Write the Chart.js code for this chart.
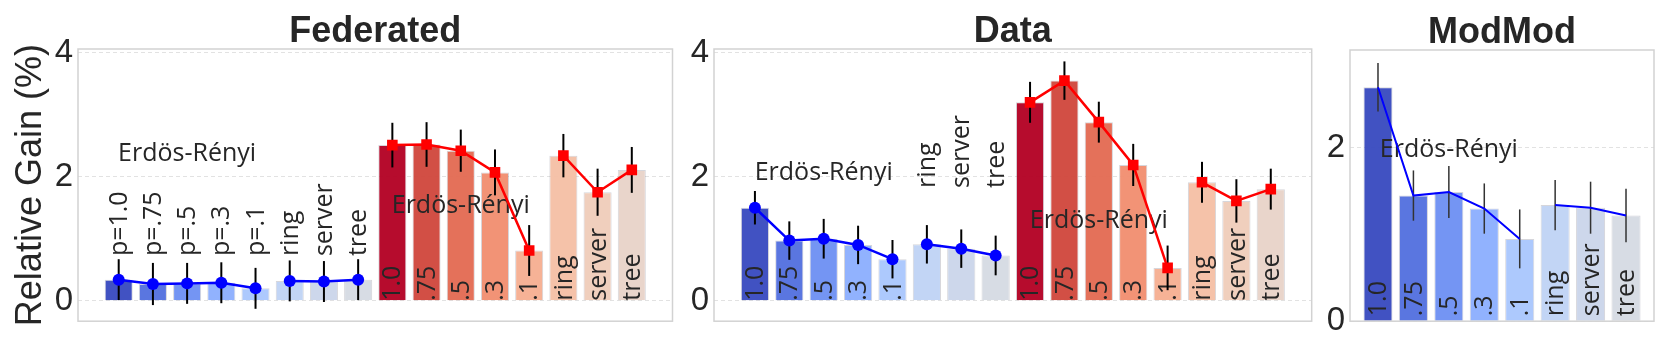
<!DOCTYPE html>
<html>
<head>
<meta charset="utf-8">
<script src="https://cdn.jsdelivr.net/npm/chart.js@4"></script>
<style>
  body { margin: 0; background: #fff; }
  #wrap { position: relative; width: 1661px; height: 346px; }
  canvas { position: absolute; top: 0; }
</style>
</head>
<body>
<div id="wrap">
  <canvas id="chartFed" width="680" height="346" style="left:0"></canvas>
  <canvas id="chartData" width="640" height="346" style="left:680px"></canvas>
  <canvas id="chartMod" width="341" height="346" style="left:1320px"></canvas>
</div>
<script>
// bar names (same order in every group)
var categories = ['1.0', '.75', '.5', '.3', '.1', 'ring', 'server', 'tree'];
var fedBlueLabels = ['p=1.0', 'p=.75', 'p=.5', 'p=.3', 'p=.1', 'ring', 'server', 'tree'];

// Federated
var fedBlue = [0.34, 0.27, 0.28, 0.29, 0.20, 0.32, 0.31, 0.34];
var fedBlueErr = [0.33, 0.34, 0.33, 0.33, 0.33, 0.33, 0.33, 0.33];
var fedRed = [2.51, 2.52, 2.42, 2.07, 0.81, 2.34, 1.75, 2.11];
var fedRedErr = [0.36, 0.36, 0.34, 0.37, 0.41, 0.35, 0.38, 0.37];

// Data
var dataBlue = [1.50, 0.97, 1.00, 0.90, 0.67, 0.91, 0.84, 0.73];
var dataBlueErr = [0.27, 0.31, 0.32, 0.31, 0.31, 0.31, 0.31, 0.32];
var dataRed = [3.20, 3.55, 2.88, 2.19, 0.53, 1.91, 1.61, 1.80];
var dataRedErr = [0.33, 0.31, 0.33, 0.34, 0.36, 0.33, 0.35, 0.33];

// ModMod
var modBlue = [2.70, 1.45, 1.49, 1.30, 0.95, 1.34, 1.31, 1.22];
var modBlueErr = [0.28, 0.29, 0.30, 0.29, 0.34, 0.29, 0.30, 0.31];

var blueColors = ['#3b4cc0', '#5572df', '#6f92f3', '#8db0fe', '#aac7fd', '#c0d4f5', '#cbd6ea', '#d6dbe3'];
var redColors = ['#b40426', '#d1493f', '#e36c55', '#f29072', '#f6b093', '#f5c0a6', '#efcdbb', '#e8d4c9'];

var textColor = '#262626';
var annoFont = '25px "Open Sans"';

function fade(hex, a) {
    var n = parseInt(hex.slice(1), 16);
    return 'rgba(' + (n >> 16) + ',' + ((n >> 8) & 255) + ',' + (n & 255) + ',' + a + ')';
}

// line points with a break between the Erdös-Rényi bars and the topologies
function linePoints(values, offset) {
    var pts = [];
    values.forEach(function (v, i) {
        if (i === 5) pts.push({ x: offset + 4.5, y: null });
        pts.push({ x: offset + i, y: v });
    });
    return pts;
}

function makeChart(id, cfg) {
    var barData = [], barColors = [], barBorders = [];
    var datasets = [];
    cfg.groups.forEach(function (g, gi) {
        var off = gi * 8;
        g.values.forEach(function (v, i) {
            barData.push({ x: off + i, y: v });
            barColors.push(fade(g.colors[i], 0.97));
            barBorders.push('rgba(90,90,110,0.25)');
        });
        datasets.push({
            type: 'line',
            data: linePoints(g.values, off),
            borderColor: g.lineColor,
            backgroundColor: g.lineColor,
            borderWidth: cfg.lineWidth,
            pointRadius: g.marker ? (g.marker === 'rect' ? 7.5 : 6) : 0,
            pointStyle: g.marker || 'circle',
            pointBorderWidth: 0,
            spanGaps: false,
            order: 1
        });
    });
    datasets.unshift({
        type: 'bar',
        data: barData,
        backgroundColor: barColors,
        borderColor: barBorders,
        borderWidth: 1,
        categoryPercentage: 1,
        barPercentage: 0.82,
        order: 2
    });

    var marks = {
        id: 'marks',
        beforeDraw: function (chart) {
            var ctx = chart.ctx, a = chart.chartArea;
            ctx.save();
            ctx.fillStyle = textColor;
            ctx.font = 'bold 36px "Liberation Sans", Arial, sans-serif';
            ctx.textAlign = 'center';
            ctx.textBaseline = 'alphabetic';
            ctx.fillText(cfg.title, (a.left + a.right) / 2, cfg.titleY);
            ctx.restore();
        },
        afterDatasetDraw: function (chart, args) {
            if (args.index !== 0) return;
            var ctx = chart.ctx, xs = chart.scales.x, ys = chart.scales.y;
            ctx.save();
            cfg.groups.forEach(function (g, gi) {
                var off = gi * 8;
                // labels written along the bars
                ctx.fillStyle = textColor;
                ctx.font = annoFont;
                ctx.textAlign = 'left';
                ctx.textBaseline = 'middle';
                g.labels.forEach(function (t, i) {
                    var x = xs.getPixelForValue(off + i);
                    var y = g.labelAt[i] == null ? ys.getPixelForValue(0) - cfg.labelLift : ys.getPixelForValue(g.labelAt[i]);
                    ctx.save();
                    ctx.translate(x + 1, y);
                    ctx.rotate(-Math.PI / 2);
                    ctx.fillText(t, 0, 0);
                    ctx.restore();
                });
                ctx.textAlign = 'center';
                ctx.textBaseline = 'alphabetic';
                ctx.fillText('Erdös-Rényi', xs.getPixelForValue(off + 2), ys.getPixelForValue(g.erY));
                // error bars
                ctx.strokeStyle = cfg.errColor;
                ctx.lineWidth = cfg.errWidth;
                g.values.forEach(function (v, i) {
                    var x = xs.getPixelForValue(off + i);
                    ctx.beginPath();
                    ctx.moveTo(x, ys.getPixelForValue(v + g.errors[i]));
                    ctx.lineTo(x, ys.getPixelForValue(v - g.errors[i]));
                    ctx.stroke();
                });
            });
            ctx.restore();
        },
        afterDraw: function (chart) {
            var ctx = chart.ctx, a = chart.chartArea;
            ctx.save();
            ctx.strokeStyle = '#d2d2d2';
            ctx.lineWidth = 1.5;
            ctx.strokeRect(a.left, a.top, a.right - a.left, a.bottom - a.top);
            ctx.restore();
        }
    };

    return new Chart(document.getElementById(id), {
        data: { datasets: datasets },
        plugins: [marks],
        options: {
            responsive: false,
            animation: false,
            events: [],
            layout: { padding: { top: cfg.top, right: cfg.padRight, bottom: cfg.padBottom, left: 0 } },
            plugins: { legend: { display: false }, tooltip: { enabled: false }, title: { display: false } },
            scales: {
                x: { type: 'linear', offset: false, min: cfg.xMin, max: cfg.xMax, display: false },
                y: {
                    min: cfg.yMin,
                    max: cfg.yMax,
                    ticks: {
                        stepSize: 2, includeBounds: false, padding: 5, color: textColor,
                        font: { family: '"Liberation Sans", Arial, sans-serif', size: 33 }
                    },
                    grid: { color: '#e2e2e2', lineWidth: 1, drawTicks: false },
                    border: { display: false, dash: [4, 3] },
                    title: {
                        display: !!cfg.yTitle,
                        text: cfg.yTitle || '',
                        color: textColor,
                        padding: { top: 13, bottom: 0 },
                        font: { family: '"Liberation Sans", Arial, sans-serif', size: 36, lineHeight: 1 }
                    },
                    afterFit: function (scale) { scale.width = cfg.axisW; }
                }
            }
        }
    });
}

var bottom = [null, null, null, null, null, null, null, null];

makeChart('chartFed', {
    title: 'Federated', titleY: 42, yTitle: 'Relative Gain (%)',
    axisW: 78, padRight: 4, top: 49, padBottom: 21,
    xMin: -1.19, xMax: 16.19, yMin: -0.33, yMax: 4.06,
    lineWidth: 2.5, errColor: '#000', errWidth: 2, labelLift: 0,
    groups: [
        { values: fedBlue, errors: fedBlueErr, colors: blueColors, lineColor: '#0000ff', marker: 'circle',
          labels: fedBlueLabels, labelAt: [0.72, 0.72, 0.72, 0.72, 0.72, 0.72, 0.72, 0.72], erY: 2.25 },
        { values: fedRed, errors: fedRedErr, colors: redColors, lineColor: '#ff0000', marker: 'rect',
          labels: categories, labelAt: bottom, erY: 1.42 }
    ]
});

makeChart('chartData', {
    title: 'Data', titleY: 42,
    axisW: 34, padRight: 8.3, top: 49, padBottom: 21,
    xMin: -1.19, xMax: 16.19, yMin: -0.33, yMax: 4.06,
    lineWidth: 2.5, errColor: '#000', errWidth: 2, labelLift: 0,
    groups: [
        { values: dataBlue, errors: dataBlueErr, colors: blueColors, lineColor: '#0000ff', marker: 'circle',
          labels: categories, labelAt: [null, null, null, null, null, 1.82, 1.82, 1.82], erY: 1.95 },
        { values: dataRed, errors: dataRedErr, colors: redColors, lineColor: '#ff0000', marker: 'rect',
          labels: categories, labelAt: bottom, erY: 1.17 }
    ]
});

makeChart('chartMod', {
    title: 'ModMod', titleY: 43,
    axisW: 30, padRight: 7, top: 50, padBottom: 20.3,
    xMin: -0.79, xMax: 7.79, yMin: 0, yMax: 3.13,
    lineWidth: 2, errColor: '#333', errWidth: 1.5, labelLift: 5,
    groups: [
        { values: modBlue, errors: modBlueErr, colors: blueColors, lineColor: '#0000ff', marker: null,
          labels: categories, labelAt: bottom, erY: 1.90 }
    ]
});
</script>
</body>
</html>
